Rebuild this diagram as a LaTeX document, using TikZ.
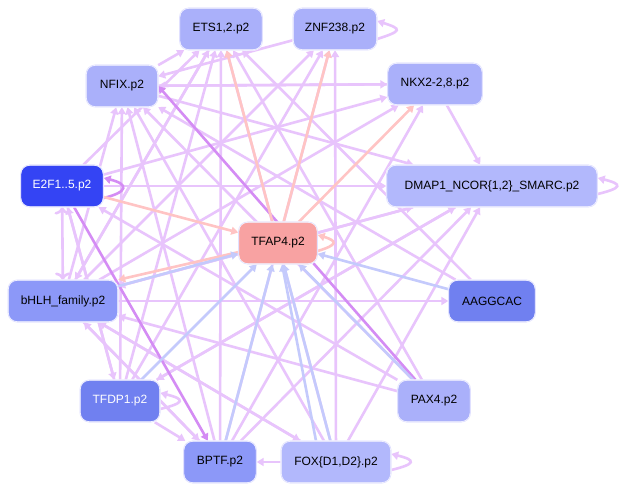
\documentclass[tikz,border=0pt]{standalone}
\usepackage{fontspec}
\setmainfont{Liberation Sans}
\usetikzlibrary{arrows.meta}
\definecolor{vio}{HTML}{E8C4FC}
\definecolor{dvio}{HTML}{D48CF4}
\definecolor{pk}{HTML}{FFC4C4}
\definecolor{bl}{HTML}{C4CAFC}
\definecolor{cA}{HTML}{AAB0FA}
\definecolor{cB}{HTML}{B2B8FC}
\definecolor{cC}{HTML}{8C98F8}
\definecolor{cD}{HTML}{7080F0}
\definecolor{cE}{HTML}{3444F4}
\definecolor{cF}{HTML}{F8A2A2}
\begin{document}
\begin{tikzpicture}[x=1pt,y=-1pt,
 nd/.style={draw=white,double=blue!12,double distance=0.6pt,rounded corners=9pt,minimum height=42pt,inner sep=0pt,font=\fontsize{12}{14}\selectfont},
 e/.style={line width=2.6pt,-{Triangle[length=7pt,width=8pt]},vio},
 ep/.style={e,pk},eb/.style={e,bl},ed/.style={e,dvio}]
\useasboundingbox[fill=white] (0,0) rectangle (629,489);
\node[nd,fill=cA,minimum width=83pt] (ets) at (221,29) {ETS1,2.p2};
\node[nd,fill=cA,minimum width=84pt] (znf) at (335,29) {ZNF238.p2};
\node[nd,fill=cA,minimum width=72pt] (nfix) at (122,86) {NFIX.p2};
\node[nd,fill=cA,minimum width=95pt] (nkx) at (435,84) {NKX2-2,8.p2};
\node[nd,fill=cE,minimum width=83pt,text=white] (e2f) at (62,186) {E2F1..5.p2};
\node[nd,fill=cB,minimum width=211pt] (dmap) at (492,186) {DMAP1\_NCOR\{1,2\}\_SMARC.p2};
\node[nd,fill=cF,minimum width=79pt] (tfap) at (278,243) {TFAP4.p2};
\node[nd,fill=cC,minimum width=110pt] (bhlh) at (63,301) {bHLH\_family.p2};
\node[nd,fill=cD,minimum width=87pt] (aag) at (492,301) {AAGGCAC};
\node[nd,fill=cD,minimum width=80pt,text=white] (tfdp) at (120,401) {TFDP1.p2};
\node[nd,fill=cA,minimum width=73pt] (pax) at (434,401) {PAX4.p2};
\node[nd,fill=cC,minimum width=73pt] (bptf) at (220,462) {BPTF.p2};
\node[nd,fill=cB,minimum width=110pt] (fox) at (336,462) {FOX\{D1,D2\}.p2};
% violet
\draw[e,<->] (e2f) -- (bhlh);
\draw[e] (nfix) -- (nkx);
\draw[e] (nfix) -- (dmap);
\draw[e] (nfix) -- (ets);
\draw[e] (nkx) -- (nfix);
\draw[e] (nkx) -- (dmap);
\draw[e] (e2f) -- (dmap);
\draw[e] (e2f) -- (nkx);
\draw[e] (e2f) -- (ets);
\draw[e] (e2f) -- (tfdp);
\draw[e] (bhlh) -- (ets);
\draw[e] (bhlh) -- (znf);
\draw[e] (bhlh) -- (nkx);
\draw[e] (bhlh) -- (nfix);
\draw[e] (bhlh) -- (aag);
\draw[e] (bhlh) -- (dmap);
\draw[e] (bhlh) -- (fox);
\draw[e] (bhlh) -- (bptf);
\draw[e] (tfdp) -- (nfix);
\draw[e] (tfdp) -- (ets);
\draw[e] (tfdp) -- (znf);
\draw[e] (tfdp) -- (dmap);
\draw[e] (tfdp) -- (e2f);
\draw[e] (tfdp) -- (bptf);
\draw[e] (bptf) -- (nfix);
\draw[e] (bptf) -- (ets);
\draw[e] (bptf) -- (znf);
\draw[e] (bptf) -- (nkx);
\draw[e] (bptf) -- (dmap);
\draw[e] (bptf) -- (bhlh);
\draw[e] (fox) -- (ets);
\draw[e] (fox) -- (znf);
\draw[e] (fox) -- (nfix);
\draw[e] (fox) -- (dmap);
\draw[e] (fox) -- (bhlh);
\draw[e] (fox) -- (bptf);
\draw[e] (pax) -- (nfix);
\draw[e] (pax) -- (ets);
\draw[e] (pax) -- (e2f);
\draw[e] (pax) -- (bhlh);
\draw[e] (aag) -- (ets);
\draw[e] (aag) -- (nfix);
\draw[e] (dmap) -- (bhlh);
\draw[e] (dmap) -- (tfdp);
\draw[e] (znf) -- (nfix);
\draw[e] (ets) -- (bhlh);
\draw[ed] (e2f) -- (bptf);
\draw[ed] (pax) -- (nfix.east);
% self loops
\draw[e] ([yshift=-10pt]znf.east) .. controls +(25,-8) and +(25,8) .. ([yshift=8pt]znf.east);
\draw[e] ([yshift=-8pt]dmap.east) .. controls +(25,-6) and +(25,6) .. ([yshift=8pt]dmap.east);
\draw[ep] ([yshift=-8pt]tfap.east) .. controls +(20,-6) and +(20,6) .. ([yshift=8pt]tfap.east);
\draw[e] ([yshift=-8pt]tfdp.east) .. controls +(25,-6) and +(25,6) .. ([yshift=8pt]tfdp.east);
\draw[e] ([yshift=-8pt]fox.east) .. controls +(25,-6) and +(25,6) .. ([yshift=8pt]fox.east);
\draw[ed] ([yshift=-12pt]e2f.east) .. controls +(25,-6) and +(25,6) .. ([yshift=8pt]e2f.east);
% pink
\draw[ep] (tfap) -- (ets);
\draw[ep] (tfap) -- (znf);
\draw[ep] (tfap) -- (nkx);
\draw[ep] (e2f) -- (tfap);
\draw[ep] (tfap) -- (bhlh.north east);
% blue
\draw[eb] (aag) -- (tfap);
\draw[eb] (tfdp) -- (tfap);
\draw[eb] (bptf) -- (tfap);
\draw[eb] ([xshift=-20pt]fox.north) -- (tfap);
\draw[eb] (pax) -- (tfap);
\draw[eb] (bhlh) -- (tfap);
\draw[eb] (fox) -- (tfap);
% redraw nodes on top
\node[nd,fill=cA,minimum width=83pt] at (ets) {ETS1,2.p2};
\node[nd,fill=cA,minimum width=84pt] at (znf) {ZNF238.p2};
\node[nd,fill=cA,minimum width=72pt] at (nfix) {NFIX.p2};
\node[nd,fill=cA,minimum width=95pt] at (nkx) {NKX2-2,8.p2};
\node[nd,fill=cE,minimum width=83pt,text=white] at (e2f) {E2F1..5.p2};
\node[nd,fill=cB,minimum width=211pt] at (dmap) {DMAP1\_NCOR\{1,2\}\_SMARC.p2};
\node[nd,fill=cF,minimum width=79pt] at (tfap) {TFAP4.p2};
\node[nd,fill=cC,minimum width=110pt] at (bhlh) {bHLH\_family.p2};
\node[nd,fill=cD,minimum width=87pt] at (aag) {AAGGCAC};
\node[nd,fill=cD,minimum width=80pt,text=white] at (tfdp) {TFDP1.p2};
\node[nd,fill=cA,minimum width=73pt] at (pax) {PAX4.p2};
\node[nd,fill=cC,minimum width=73pt] at (bptf) {BPTF.p2};
\node[nd,fill=cB,minimum width=110pt] at (fox) {FOX\{D1,D2\}.p2};
\end{tikzpicture}
\end{document}
